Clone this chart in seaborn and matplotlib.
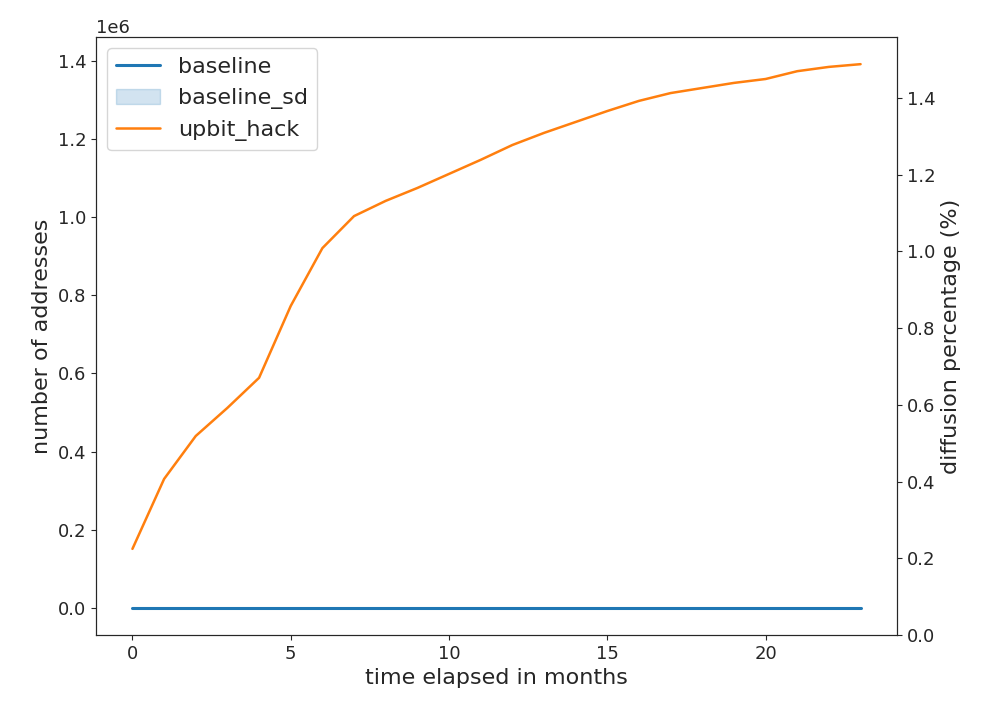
import numpy as np
import pandas as pd
import matplotlib
matplotlib.use("Agg")
import matplotlib.pyplot as plt
import seaborn as sns

months = list(range(24))
upbit_hack = [0.151e6, 0.330e6, 0.440e6, 0.512e6, 0.589e6, 0.773e6, 0.921e6, 1.003e6,
              1.042e6, 1.075e6, 1.111e6, 1.147e6, 1.185e6, 1.216e6, 1.244e6, 1.272e6,
              1.298e6, 1.318e6, 1.331e6, 1.344e6, 1.354e6, 1.374e6, 1.385e6, 1.392e6]
baseline = [0] * 24
baseline_sd = [0] * 24
diffusion_top = 1.559

sns.set_style("ticks")
plt.rcParams["font.size"] = 13

df = pd.DataFrame({"month": months, "baseline": baseline, "upbit_hack": upbit_hack})
lo = np.array(baseline) - np.array(baseline_sd)
hi = np.array(baseline) + np.array(baseline_sd)

fig, ax = plt.subplots(figsize=(9.87, 7.07), dpi=100)
fig.subplots_adjust(left=0.0973, right=0.9088, top=0.9477, bottom=0.1018)

sns.lineplot(data=df, x="month", y="baseline", ax=ax, color="tab:blue",
             label="baseline", linewidth=2.2)
ax.fill_between(months, lo, hi, color="tab:blue", alpha=0.2, label="baseline_sd")
sns.lineplot(data=df, x="month", y="upbit_hack", ax=ax, color="tab:orange",
             label="upbit_hack", linewidth=1.8)

ax.set_xlabel("time elapsed in months", fontsize=16)
ax.set_ylabel("number of addresses", fontsize=16)
ax.tick_params(labelsize=13)
ax.legend(loc="upper left", fontsize=16)

ax2 = ax.twinx()
ax2.set_ylim(0, diffusion_top)
ax2.set_ylabel("diffusion percentage (%)", fontsize=16)
ax2.tick_params(labelsize=13)

plt.savefig("out.png", dpi=100)
